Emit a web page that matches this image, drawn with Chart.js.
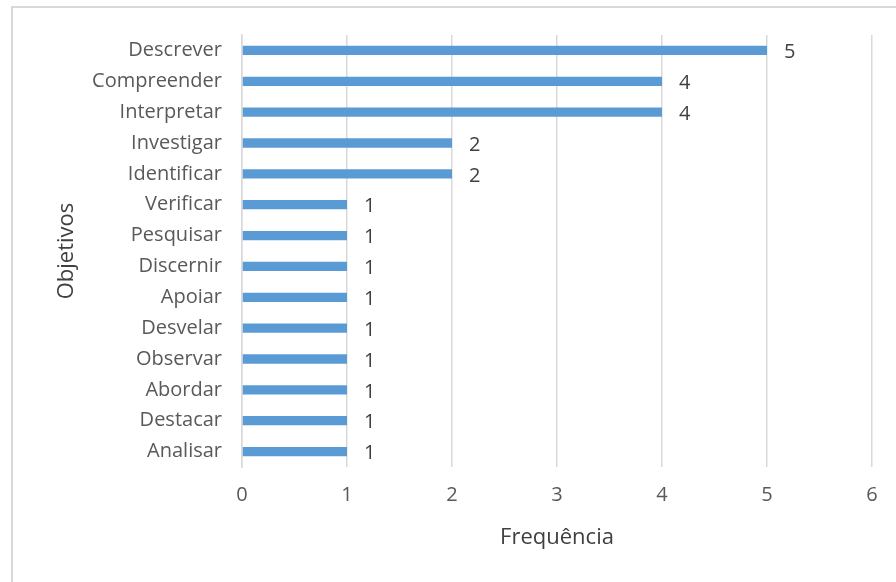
<!DOCTYPE html>
<html>
<head>
<meta charset="utf-8">
<script src="https://cdn.jsdelivr.net/npm/chart.js@4"></script>
<style>
  html, body { margin: 0; padding: 0; background: #fff; overflow: hidden; }
  #moldura { position: absolute; left: 11px; top: 6px; width: 900px; height: 600px; border: 2px solid #d9d9d9; box-sizing: border-box; }
  #caixa { position: absolute; left: 0; top: 0; width: 896px; height: 582px; }
</style>
</head>
<body>
<div id="moldura"></div>
<div id="caixa"><canvas id="grafico"></canvas></div>
<script>
// Dados do gráfico
const objetivos = ['Descrever', 'Compreender', 'Interpretar', 'Investigar', 'Identificar', 'Verificar',
  'Pesquisar', 'Discernir', 'Apoiar', 'Desvelar', 'Observar', 'Abordar', 'Destacar', 'Analisar'];
const frequencias = [5, 4, 4, 2, 2, 1, 1, 1, 1, 1, 1, 1, 1, 1];
const ticksX = [0, 1, 2, 3, 4, 5, 6];

const fonte = "'Open Sans', 'Liberation Sans', sans-serif";
const corTexto = '#595959';

// Desenha os valores ao lado de cada barra
const rotulosValores = {
  id: 'rotulosValores',
  afterDatasetsDraw(chart) {
    const ctx = chart.ctx;
    const meta = chart.getDatasetMeta(0);
    ctx.save();
    ctx.font = '20px ' + fonte;
    ctx.fillStyle = '#404040';
    ctx.textAlign = 'left';
    ctx.textBaseline = 'middle';
    meta.data.forEach((barra, i) => {
      ctx.fillText(String(frequencias[i]), barra.x + 17, barra.y + 2);
    });
    ctx.restore();
  }
};

new Chart(document.getElementById('grafico'), {
  type: 'bar',
  data: {
    labels: objetivos,
    datasets: [{
      data: frequencias,
      backgroundColor: '#5b9bd5',
      borderWidth: 0,
      categoryPercentage: 1,
      barPercentage: 0.3,
    }],
  },
  options: {
    indexAxis: 'y',
    responsive: true,
    maintainAspectRatio: false,
    animation: false,
    layout: { padding: { left: 50, top: 35, right: 24, bottom: 27 } },
    plugins: { legend: { display: false }, tooltip: { enabled: false } },
    scales: {
      x: {
        min: 0,
        max: 6,
        afterBuildTicks: (escala) => { escala.ticks = ticksX.map(v => ({ value: v })); },
        grid: { color: '#d9d9d9', lineWidth: 1.5, drawTicks: false },
        border: { display: false },
        ticks: { color: corTexto, font: { family: fonte, size: 20 }, padding: 16 },
        title: { display: true, text: 'Frequência', color: '#404040', font: { family: fonte, size: 22 }, padding: { top: 8, bottom: 4 } },
        afterFit: (escala) => { escala.height = 88; },
      },
      y: {
        grid: { display: false, drawTicks: false },
        border: { display: true, color: '#d9d9d9', width: 1.5 },
        ticks: { color: corTexto, font: { family: fonte, size: 20 }, padding: 20 },
        title: { display: true, text: 'Objetivos', color: '#404040', font: { family: fonte, size: 22 } },
        afterFit: (escala) => { escala.width = 192; },
      },
    },
  },
  plugins: [rotulosValores],
});
</script>
</body>
</html>
